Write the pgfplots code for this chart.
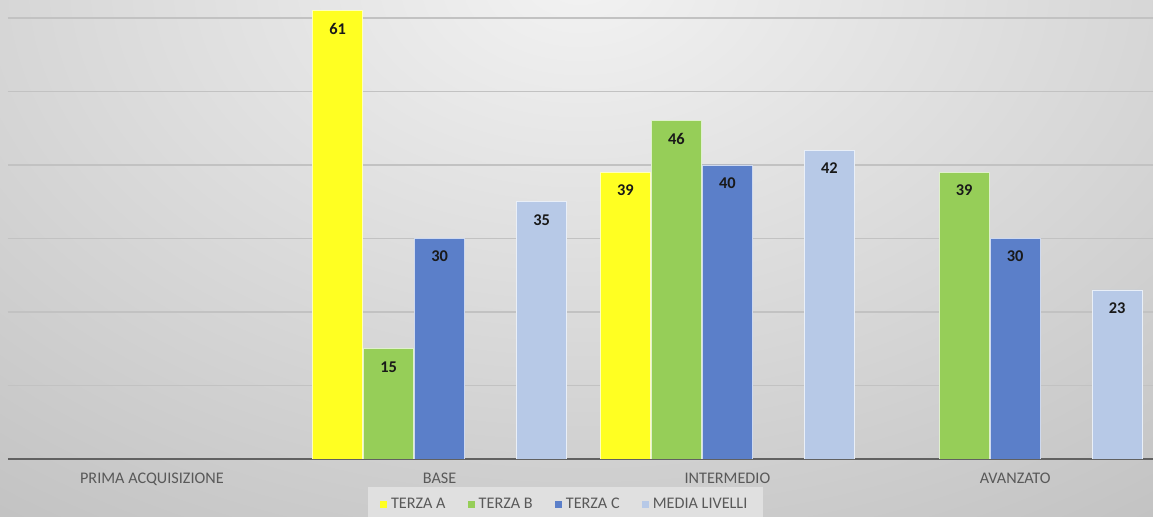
\documentclass[border=0pt]{standalone}
\usepackage{fontspec}
\setmainfont{Carlito}
\usepackage{pgfplots}
\pgfplotsset{compat=1.18}
\definecolor{cA}{HTML}{FFFF22}
\definecolor{cB}{HTML}{96CE58}
\definecolor{cC}{HTML}{5B7FC9}
\definecolor{cD}{HTML}{B7C9E7}
\definecolor{txt}{HTML}{595959}
\definecolor{gridc}{HTML}{C2C2C2}
\begin{document}
\begin{tikzpicture}
\useasboundingbox (0,0) rectangle (576.5pt,-258.5pt);
\begin{scope}
\clip (0,0) rectangle (576.5pt,-258.5pt);
\shade[inner color=white!95!black, outer color=white!76!black] (290pt,10pt) ellipse (500pt and 340pt);
\end{scope}
\begin{axis}[
  at={(4pt,0pt)}, anchor=north west,
  scale only axis, width=572.5pt, height=229.5pt,
  xmin=-0.5, xmax=3.479, ymin=0, ymax=62.45,
  ybar, bar width=25pt,
  axis x line*=bottom, axis y line*=left,
  y axis line style={draw=none},
  x axis line style={draw=black!62, line width=1pt, -},
  ytick={10,20,30,40,50,60}, yticklabels={},
  ymajorgrids, major grid style={draw=gridc, line width=0.55pt},
  major tick length=0pt,
  xtick={0,1,2,3},
  xticklabels={PRIMA ACQUISIZIONE, BASE, INTERMEDIO, AVANZATO},
  xticklabel style={font=\fontsize{8.1}{9}\selectfont, text=txt, yshift=-3.5pt},
  /pgf/number format/assume math mode=true,
  nodes near coords,
  every node near coord/.append style={font=\fontsize{8.2}{9}\selectfont\bfseries, text=black!90, anchor=center, yshift=-9pt},
  legend columns=-1,
  legend image code/.code={\fill[#1,draw=none] (0pt,-1.8pt) rectangle (3.6pt,1.8pt);},
  legend style={at={(0.487,-0.1)}, anchor=center, fill=white!88!black, draw=none,
    font=\fontsize{8.1}{9}\selectfont, text=txt, inner xsep=6pt, inner ysep=3.5pt,
    /tikz/every even column/.append style={column sep=9pt}},
]
\addplot[fill=cA, draw=white!70!cA, line width=0.4pt, bar shift=-51pt] coordinates {(1,61) (2,39)};
\addlegendentry{TERZA A}
\addplot[fill=cB, draw=white!70!cB, line width=0.4pt, bar shift=-25.5pt] coordinates {(1,15) (2,46) (3,39)};
\addlegendentry{TERZA B}
\addplot[fill=cC, draw=white!70!cC, line width=0.4pt, bar shift=0pt] coordinates {(1,30) (2,40) (3,30)};
\addlegendentry{TERZA C}
\addplot[fill=cD, draw=white!70!cD, line width=0.4pt, bar shift=51pt] coordinates {(1,35) (2,42) (3,23)};
\addlegendentry{MEDIA LIVELLI}
\end{axis}
\end{tikzpicture}
\end{document}
